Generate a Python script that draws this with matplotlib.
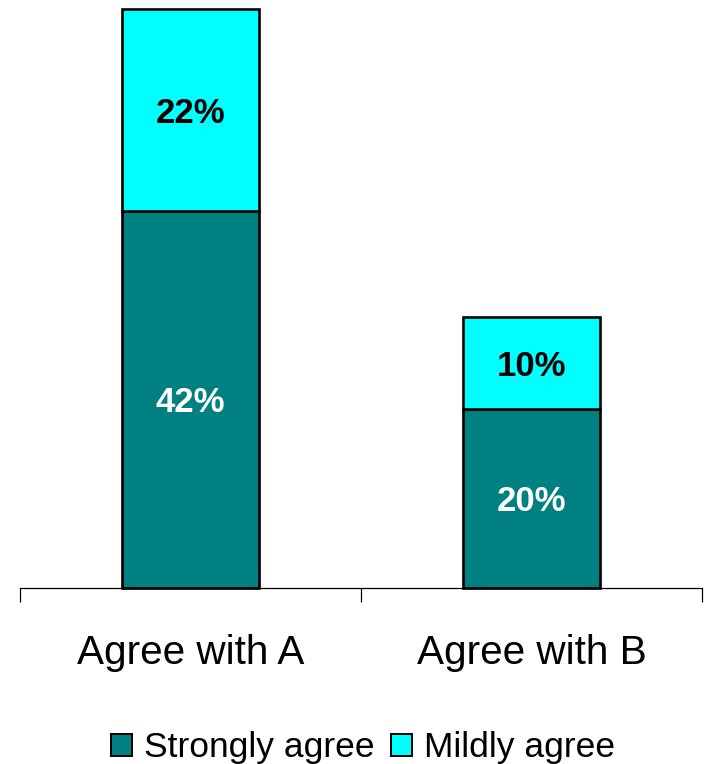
import matplotlib
matplotlib.use("Agg")
import matplotlib.pyplot as plt
from matplotlib.patches import Patch

categories = ["Agree with A", "Agree with B"]
strongly = [41.7, 19.8]
mildly = [22.3, 10.2]
series_names = ["Strongly agree", "Mildly agree"]

plt.rcParams['font.family'] = ['Liberation Sans', 'DejaVu Sans']

W, H = 706, 764
fig = plt.figure(figsize=(W / 100, H / 100), dpi=100)
ax = fig.add_axes([20 / W, (H - 588) / H, (702 - 20) / W, (588 - 9) / H])

x = list(range(len(categories)))
teal = "#008080"
cyan = "#00FFFF"
ax.bar(x, strongly, width=0.40, color=teal, edgecolor="black", linewidth=1.9, clip_on=False)
ax.bar(x, mildly, width=0.40, bottom=strongly, color=cyan, edgecolor="black", linewidth=1.9, clip_on=False)

for i in x:
    ax.text(i, strongly[i] / 2, f"{strongly[i]:.0f}%", ha="center", va="center_baseline",
            color="white", fontsize=25, fontweight="bold")
    ax.text(i, strongly[i] + mildly[i] / 2, f"{mildly[i]:.0f}%", ha="center", va="center_baseline",
            color="black", fontsize=25, fontweight="bold")

ax.set_xlim(-0.5, 1.5)
ax.set_ylim(0, 64)
for s in ["top", "left", "right"]:
    ax.spines[s].set_visible(False)
ax.spines["bottom"].set_linewidth(0.9)
ax.set_yticks([])
ax.set_xticks([-0.5, 0.5, 1.5])
ax.set_xticklabels([])
ax.tick_params(axis="x", which="major", length=10, width=0.9, direction="out")
ax.set_xticks(x, minor=True)
ax.set_xticklabels(categories, minor=True, fontsize=29.2)
ax.tick_params(axis="x", which="minor", length=0, pad=33)

handles = [Patch(facecolor=teal, edgecolor="black", linewidth=1.4),
           Patch(facecolor=cyan, edgecolor="black", linewidth=1.4)]
fig.legend(handles, series_names, loc="center", bbox_to_anchor=(363 / W, 1 - 748 / H),
           ncol=2, frameon=False, fontsize=25.5, handlelength=0.6, handleheight=0.6,
           handletextpad=0.35, columnspacing=0.45, borderpad=0)

fig.savefig("out.png", dpi=100)
